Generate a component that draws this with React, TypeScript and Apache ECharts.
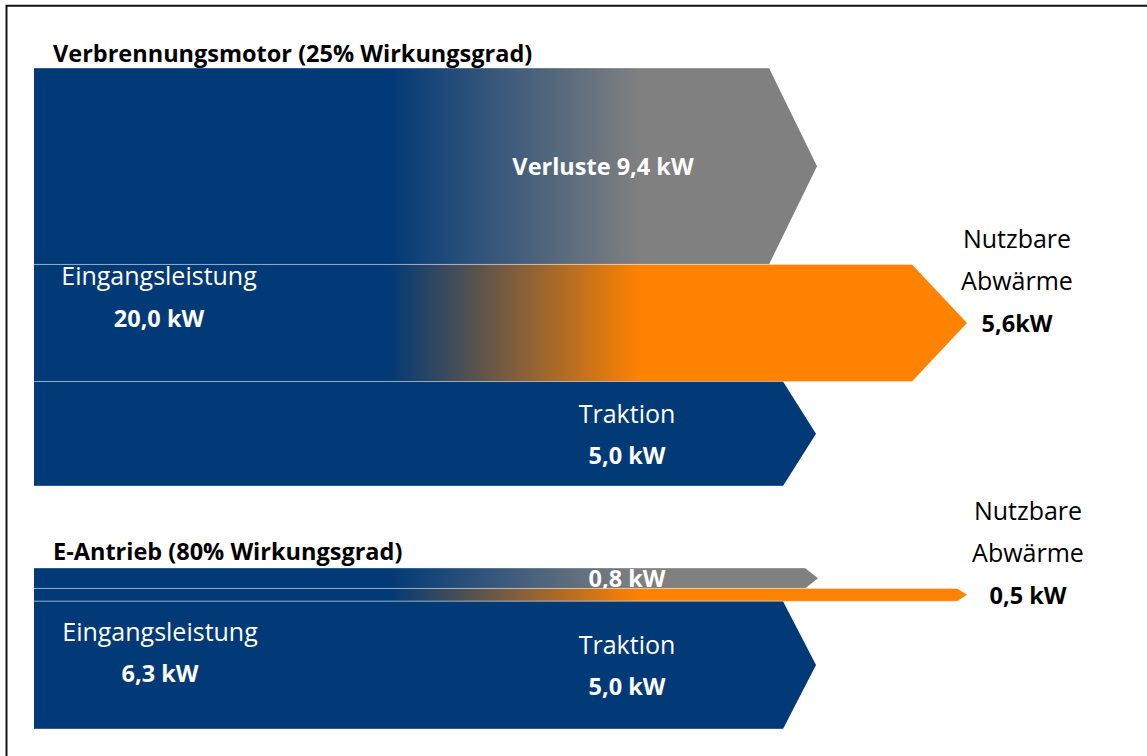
import React, { useEffect, useRef } from 'react';
import * as echarts from 'echarts';

// ---- data ----
const flowNames = ['Verluste', 'Nutzbare Abwärme', 'Traktion'];
const blockTitles = ['Verbrennungsmotor (25% Wirkungsgrad)', 'E-Antrieb (80% Wirkungsgrad)'];
const inputPower = [20.0, 6.3]; // kW
const iceFlows = [9.4, 5.6, 5.0]; // kW: Verluste, Nutzbare Abwärme, Traktion
const evFlows = [0.8, 0.5, 5.0];

// ---- styles / layout ----
const NAVY = '#023a77';
const GRAY = '#808080';
const ORANGE = '#ff8200';
const FONT = '"Open Sans", "Noto Sans", sans-serif';
const BOLD = 23.5;
const REG = 25;
const LEFT = 34;
const endColors = [GRAY, ORANGE, NAVY];
const arrowLayout = [
  [ { tip: 817, depth: 48, labelX: 603 }, { tip: 967, depth: 55, labelX: 1017 }, { tip: 816, depth: 33, labelX: 627 } ],
  [ { tip: 818, depth: 13, labelX: 627 }, { tip: 967, depth: 10, labelX: 1028 }, { tip: 816, depth: 33, labelX: 627 } ],
];

const fmt = (v: number) => v.toFixed(1).replace('.', ',');

function buildData(values: number[], block: number) {
  let acc = 0;
  return values.map((v, i) => {
    const item = [i, acc, acc + v, block, v];
    acc += v;
    return item;
  });
}

function txt(text: string, x: number, y: number, size: number, bold: boolean, fill: string, align = 'center') {
  return {
    type: 'text',
    x, y, z: 100,
    style: {
      text, fill,
      fontSize: size, fontWeight: bold ? 'bold' : 'normal', fontFamily: FONT,
      align, verticalAlign: 'middle', textAlign: align, textVerticalAlign: 'middle',
    },
  };
}

function renderItem(params: any, api: any) {
  const idx = api.value(0);
  const s = api.value(1);
  const e = api.value(2);
  const block = api.value(3);
  const v = api.value(4);
  const lay = arrowLayout[block][idx];
  const p0 = api.coord([LEFT, s]);
  const p1 = api.coord([LEFT, e]);
  const x0 = p0[0];
  const y0 = p0[1];
  const y1 = p1[1];
  const mid = (y0 + y1) / 2;
  const tip = api.coord([lay.tip, s])[0];
  const sh = tip - lay.depth;
  const fill = idx === 2
    ? NAVY
    : {
        type: 'linear', x: 390, y: 0, x2: 640, y2: 0, global: true,
        colorStops: [ { offset: 0, color: NAVY }, { offset: 1, color: endColors[idx] } ],
      };
  const children: any[] = [
    {
      type: 'polygon',
      shape: { points: [[x0, y0], [sh, y0], [tip, mid], [sh, y1], [x0, y1]] },
      style: { fill },
    },
    { type: 'line', shape: { x1: x0, y1: y0, x2: sh, y2: y0 }, style: { stroke: 'rgba(255,255,255,0.35)', lineWidth: 1 } },
    { type: 'line', shape: { x1: x0, y1: y1, x2: sh, y2: y1 }, style: { stroke: 'rgba(255,255,255,0.35)', lineWidth: 1 } },
  ];
  if (idx === 0) {
    const t = block === 0 ? `${flowNames[0]} ${fmt(v)} kW` : `${fmt(v)} kW`;
    children.push(txt(t, lay.labelX, mid, BOLD, true, '#fff'));
  } else if (idx === 1) {
    const unit = block === 0 ? 'kW' : ' kW';
    children.push(txt('Nutzbare', lay.labelX, mid - 85, REG, false, '#000'));
    children.push(txt('Abwärme', lay.labelX, mid - 43, REG, false, '#000'));
    children.push(txt(`${fmt(v)}${unit}`, lay.labelX, mid, BOLD, true, '#000'));
  } else {
    children.push(txt(flowNames[2], lay.labelX, mid - 21, REG, false, '#fff'));
    children.push(txt(`${fmt(v)} kW`, lay.labelX, mid + 21, BOLD, true, '#fff'));
  }
  return { type: 'group', children };
}

export default function App() {
  const ref = useRef<HTMLDivElement>(null);
  useEffect(() => {
    if (!ref.current) return;
    const chart = echarts.init(ref.current, null, { renderer: 'svg' });
    const option: any = {
      animation: false,
      backgroundColor: '#fff',
      grid: [
        { left: 0, right: 0, top: 68, height: 418 },
        { left: 0, right: 0, top: 568, height: 161 },
      ],
      xAxis: [
        { type: 'value', gridIndex: 0, min: 0, max: 1147, show: false },
        { type: 'value', gridIndex: 1, min: 0, max: 1147, show: false },
      ],
      yAxis: [
        { type: 'value', gridIndex: 0, min: 0, max: inputPower[0], inverse: true, show: false },
        { type: 'value', gridIndex: 1, min: 0, max: inputPower[1], inverse: true, show: false },
      ],
      series: [
        { type: 'custom', xAxisIndex: 0, yAxisIndex: 0, renderItem, data: buildData(iceFlows, 0), clip: false },
        { type: 'custom', xAxisIndex: 1, yAxisIndex: 1, renderItem, data: buildData(evFlows, 1), clip: false },
      ],
      graphic: [
        { type: 'rect', z: 100, shape: { x: 6.5, y: 5.7, width: 1200, height: 800 }, style: { fill: 'none', stroke: '#111', lineWidth: 2 }, silent: true },
        txt(blockTitles[0], 53, 53, BOLD, true, '#000', 'left'),
        txt(blockTitles[1], 53, 551, BOLD, true, '#000', 'left'),
        txt('Eingangsleistung', 159, 275, REG, false, '#fff'),
        txt(`${fmt(inputPower[0])} kW`, 159, 318, BOLD, true, '#fff'),
        txt('Eingangsleistung', 160, 631, REG, false, '#fff'),
        txt(`${fmt(inputPower[1])} kW`, 160, 673, BOLD, true, '#fff'),
      ],
    };
    chart.setOption(option);
    return () => chart.dispose();
  }, []);
  return <div ref={ref} style={{ position: 'absolute', left: 0, top: 0, width: 1147, height: 756 }} />;
}
